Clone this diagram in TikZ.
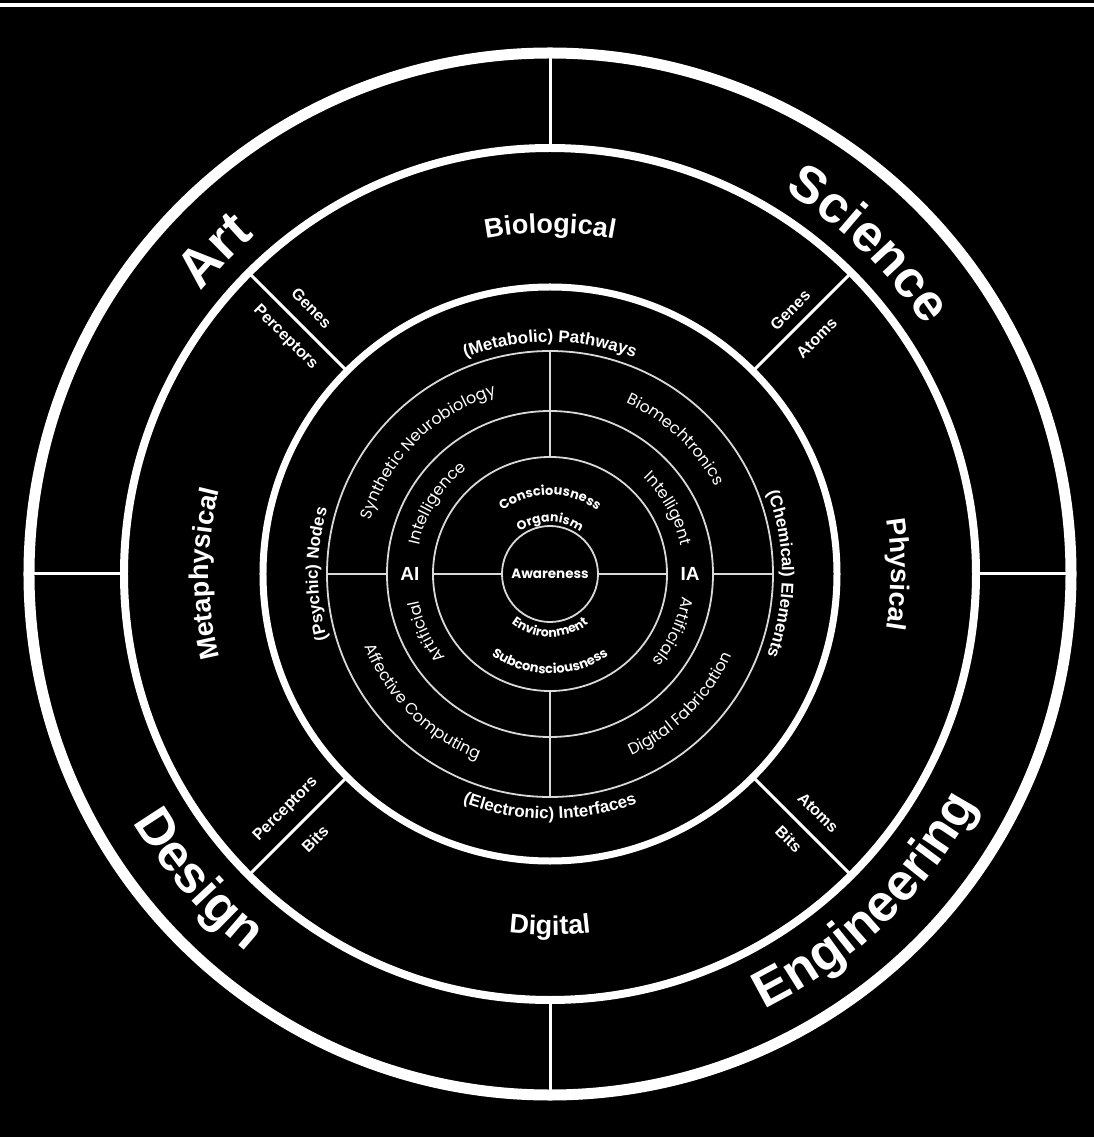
\documentclass[tikz,border=0pt]{standalone}
\usepackage{fontspec}
\setmainfont{Liberation Sans}
\newfontfamily\geofont{Poppins}
\usetikzlibrary{decorations.text}

% text set along an arc round the centre
\newcommand{\ringtext}[5]{%
  \path[decorate, decoration={text along path, text color=white,
      text align=center, text={|#1|#5}}]
    (#3:#2) arc[start angle=#3, end angle=#4, radius=#2];}

\begin{document}
\begin{tikzpicture}[x=1pt, y=1pt,
  thinring/.style={draw=white!85!black, line width=1.8pt},
  divider/.style={draw=white, line width=3pt},
  tag/.style={text=white, inner sep=0pt, font=\bfseries\fontsize{16}{18}\selectfont}]

	% background and top rule
	\fill[black] (-550,-563) rectangle (544,574);
	\useasboundingbox (-550,-563) rectangle (544,574);
	\draw[white, line width=4pt] (-550,569) -- (544,569);

	% rings
	\draw[white, line width=11pt] (0,0) circle (521);
	\draw[white, line width=8pt] (0,0) circle (426);
	\draw[white, line width=7pt] (0,0) circle (287);
	\foreach \r in {223,163,117,48}
		\draw[thinring] (0,0) circle (\r);

	% dividers
	\foreach \a in {0,90,180,270}
		\draw[divider] (\a:426) -- (\a:516);
	\foreach \a in {45,135,225,315}
		\draw[divider] (\a:287) -- (\a:426);
	\foreach \a in {90,270}
		\draw[thinring] (\a:117) -- (\a:223);
	\foreach \a in {0,180} {
		\draw[thinring] (\a:163) -- (\a:223);
		\draw[thinring] (\a:48) -- (\a:117);
	}

	% outer band
	\ringtext{\bfseries\fontsize{54}{60}\selectfont}{449}{176}{96}{Art}
	\ringtext{\bfseries\fontsize{52}{60}\selectfont}{449}{86}{6}{Science}
	\ringtext{\bfseries\fontsize{52}{60}\selectfont}{485}{181}{261}{Design}
	\ringtext{\bfseries\fontsize{52}{60}\selectfont}{485}{274}{354}{Engineering}

	% second band
	\ringtext{\bfseries\fontsize{27}{32}\selectfont}{341}{150}{30}{Biological}
	\ringtext{\bfseries\fontsize{27}{32}\selectfont}{341}{60}{-60}{Physical}
	\ringtext{\bfseries\fontsize{27}{32}\selectfont}{341}{240}{120}{Metaphysical}
	\ringtext{\bfseries\fontsize{27}{32}\selectfont}{361}{210}{330}{Digital}

	% tags beside the diagonals
	\node[tag, rotate=-45] (genesA) at (131.9:357) {Genes};
	\node[tag, rotate=-45] (percA) at (138.2:355) {Perceptors};
	\node[tag, rotate=45] (genesB) at (47.7:357) {Genes};
	\node[tag, rotate=45] (atomsB) at (41.5:356) {Atoms};
	\node[tag, rotate=45] (percC) at (221.7:354) {Perceptors};
	\node[tag, rotate=45] (bitsC) at (228.4:354) {Bits};
	\node[tag, rotate=-45] (atomsD) at (-41.7:359) {Atoms};
	\node[tag, rotate=-45] (bitsD) at (-48:357) {Bits};

	% third band
	\ringtext{\bfseries\fontsize{17}{20}\selectfont}{232}{170}{10}{(Metabolic) Pathways}
	\ringtext{\bfseries\fontsize{17}{20}\selectfont}{232}{80}{-80}{(Chemical) Elements}
	\ringtext{\bfseries\fontsize{17}{20}\selectfont}{232}{260}{100}{(Psychic) Nodes}
	\ringtext{\bfseries\fontsize{17}{20}\selectfont}{245}{190}{350}{(Electronic) Interfaces}

	% fourth band
	\ringtext{\geofont\fontsize{16}{18}\selectfont}{187}{205}{65}{Synthetic Neurobiology}
	\ringtext{\geofont\fontsize{16}{18}\selectfont}{187}{117}{-23}{Biomechtronics}
	\ringtext{\geofont\fontsize{16}{18}\selectfont}{199}{155}{295}{Affective Computing}
	\ringtext{\geofont\fontsize{16}{18}\selectfont}{199}{245}{385}{Digital Fabrication}

	% fifth band
	\ringtext{\geofont\fontsize{16}{18}\selectfont}{134}{218}{78}{Intelligence}
	\ringtext{\geofont\fontsize{16}{18}\selectfont}{134}{99}{-41}{Intelligent}
	\ringtext{\geofont\fontsize{16}{18}\selectfont}{134}{275}{135}{Artificial}
	\ringtext{\geofont\fontsize{16}{18}\selectfont}{134}{45}{-95}{Artificials}
	\node[text=white, font=\bfseries\fontsize{19}{22}\selectfont] (ai) at (180:140) {AI};
	\node[text=white, font=\bfseries\fontsize{19}{22}\selectfont] (ia) at (0:140) {IA};

	% inner band and core
	\ringtext{\geofont\bfseries\fontsize{13}{15}\selectfont}{79}{170}{10}{Consciousness}
	\ringtext{\geofont\bfseries\fontsize{12.5}{15}\selectfont}{52}{170}{10}{Organism}
	\ringtext{\geofont\bfseries\fontsize{12.5}{15}\selectfont}{63}{190}{350}{Environment}
	\ringtext{\geofont\bfseries\fontsize{13}{15}\selectfont}{100}{190}{350}{Subconsciousness}
	\node[text=white, font=\geofont\bfseries\fontsize{13.5}{16}\selectfont] (core) at (0,0) {Awareness};

\end{tikzpicture}
\end{document}
